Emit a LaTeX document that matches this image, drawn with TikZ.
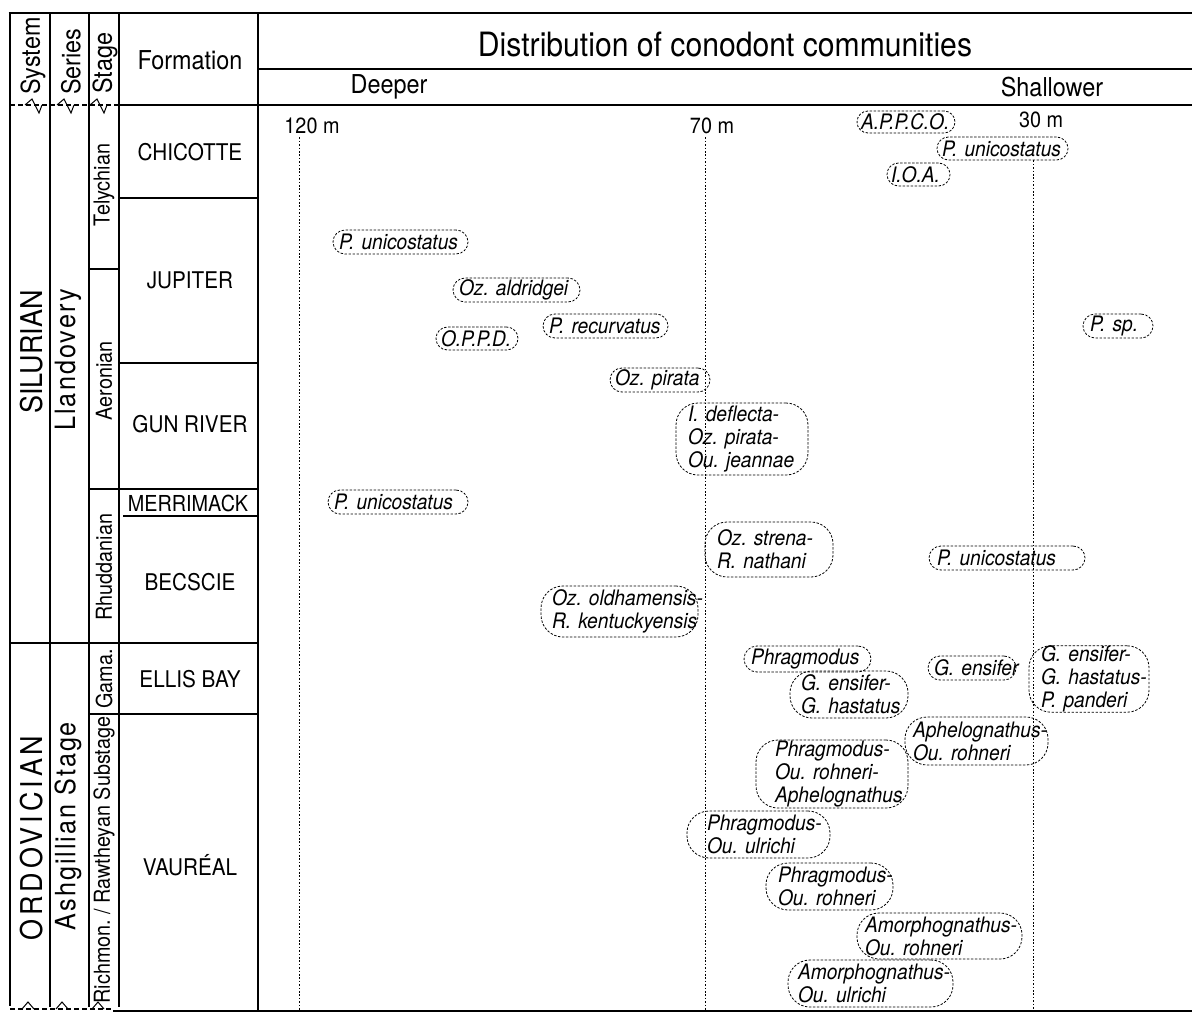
\documentclass[tikz,border=0pt]{standalone}
\usepackage{fontspec}
\setmainfont{TeX Gyre Heros}[FakeStretch=0.9]
\newfontfamily\commfam{TeX Gyre Heros}[FakeStretch=0.9, WordSpace=0.4]
\begin{document}
\frenchspacing
\begin{tikzpicture}[x=1pt,y=-1pt,
  rule/.style={line width=1.3pt, line cap=rect},
  border/.style={line width=2.8pt},
  comm/.style={draw, line width=0.8pt, dash pattern=on 2.4pt off 1.6pt,
    rounded corners=12pt, align=left, inner ysep=0pt,
    font=\commfam\fontsize{21.3}{23}\selectfont\itshape\frenchspacing},
  multi/.style={rounded corners=22pt},
  guide/.style={line width=0.9pt, dash pattern=on 1.6pt off 1.8pt},
  fm/.style={font=\fontsize{23}{26}\selectfont},
  stg/.style={rotate=90, font=\fontsize{22}{24}\selectfont},
  hdr/.style={font=\fontsize{26}{28}\selectfont},
  dep/.style={font=\fontsize{22}{24}\selectfont},
  colhdr/.style={rotate=90, anchor=west, inner sep=0pt, font=\fontsize{26}{28}\selectfont},
  brktop/.pic={\draw[line width=1pt, line join=miter] (-7,0) -- (0,-6) -- (7,8) -- (10,0);},
  brkbot/.pic={\draw[line width=1pt] (-6,0) -- (0,-7) -- (6,0);}
]
\useasboundingbox (0,0) rectangle (1192,1014);

% ---- frame and grid ----
\draw[border] (8.6,13) -- (1192,13);
\draw[border] (10,13) -- (10,1006);
\draw[border] (113,1011) -- (1192,1011);
\draw[rule] (50,13) -- (50,1006);
\draw[rule] (89,13) -- (89,1006);
\draw[rule] (119,13) -- (119,1006);
\draw[rule] (258,13) -- (258,1011);
\draw[rule] (258,69) -- (1192,69);
\draw[rule] (119,105) -- (1192,105);
\draw[line width=1.1pt, dash pattern=on 5pt off 3pt] (10,105) -- (119,105);
\draw[line width=1.1pt, dash pattern=on 5pt off 3pt] (10,1009) -- (113,1009);
\pic at (32,105) {brktop};
\pic at (64,105) {brktop};
\pic at (97,105) {brktop};
\pic at (28,1009) {brkbot};
\pic at (62,1009) {brkbot};
\pic at (98,1009) {brkbot};

\draw[rule] (89,269) -- (119,269);
\draw[rule] (119,198) -- (258,198);
\draw[rule] (119,363) -- (258,363);
\draw[rule] (89,489) -- (258,489);
\draw[rule] (124,516) -- (258,516);
\draw[rule] (10,643) -- (258,643);
\draw[rule] (89,714) -- (258,714);

% ---- headers ----
\node[font=\fontsize{33.5}{36}\selectfont] (title) at (725,44) {Distribution of conodont communities};
\node[hdr] (deeper) at (389,87) {Deeper};
\node[hdr] (shallower) at (1052,87) {Shallower};
\node[hdr] (formation) at (190,60) {Formation};
\node[colhdr] (system) at (33,95) {System};
\node[colhdr] (series) at (71,95) {Series};
\node[colhdr] (stage) at (105,94) {Stage};

% ---- system / series / stage ----
\node[rotate=90, font=\fontsize{30}{32}\selectfont] (sil) at (32,352) {SILURIAN};
\node[rotate=90, font=\fontsize{30}{32}\selectfont\addfontfeature{LetterSpace=13}] (ord) at (32,838) {ORDOVICIAN};
\node[rotate=90, font=\fontsize{28}{30}\selectfont\addfontfeature{LetterSpace=7.5}] (llan) at (68,360) {Llandovery};
\node[rotate=90, font=\fontsize{28}{30}\selectfont\addfontfeature{LetterSpace=7}] (ashg) at (68,826) {Ashgillian Stage};
\node[stg] (tely) at (104,185) {Telychian};
\node[stg] (aero) at (104,381) {Aeronian};
\node[stg] (rhud) at (104,567) {Rhuddanian};
\node[stg] (gama) at (104,679) {Gama.};
\node[stg] (rich) at (104,860) {Richmon. / Rawtheyan Substage};

% ---- formations ----
\node[fm] (chic) at (190,152) {CHICOTTE};
\node[fm] (jup) at (190,280) {JUPITER};
\node[fm] (gun) at (190,424) {GUN RIVER};
\node[font=\fontsize{22}{24}\selectfont] (merr) at (188,503) {MERRIMACK};
\node[fm] (becs) at (190,582) {BECSCIE};
\node[fm] (ellis) at (190,679) {ELLIS BAY};
\node[fm] (vaur) at (190,865) {VAURÉAL};

% ---- depth guides ----
\node[dep] (m120) at (312,126) {120 m};
\node[dep] (m70) at (712,126) {70 m};
\node[dep] (m30) at (1041,120) {30 m};
\coordinate (b120) at (299,1011);
\coordinate (b70) at (705,1011);
\coordinate (b30) at (1033,1011);

% ---- communities ----
\node[comm, text width=90pt, inner xsep=4pt, minimum height=22pt, rounded corners=11pt] (apco) at (906,122) {\mbox{A.P.P.C.O.}};
\node[comm, text width=121pt, inner xsep=5pt, minimum height=23pt, rounded corners=11.5pt] (pua) at (1002.5,148.5) {\mbox{P. unicostatus}};
\node[comm, text width=55pt, inner xsep=4pt, minimum height=23pt, rounded corners=11.5pt] (ioa) at (918.5,174.5) {\mbox{I.O.A.}};
\node[comm, text width=123pt, inner xsep=6pt, minimum height=24pt] (pub) at (400.5,242) {\mbox{P. unicostatus}};
\node[comm, text width=115pt, inner xsep=6pt, minimum height=24pt] (ozal) at (516.5,290) {\mbox{Oz. aldridgei}};
\node[comm, text width=113pt, inner xsep=6pt, minimum height=24pt] (prec) at (605.5,326) {\mbox{P. recurvatus}};
\node[comm, text width=72pt, inner xsep=5pt, minimum height=23pt, rounded corners=11.5pt] (oppd) at (477,338.5) {\mbox{O.P.P.D.}};
\node[comm, text width=56pt, inner xsep=7pt, minimum height=24pt] (psp) at (1118,326) {\mbox{P. sp.}};
\node[comm, text width=90pt, inner xsep=5pt, minimum height=24pt] (ozpi) at (660,380) {\mbox{Oz. pirata}};
\node[comm, multi, text width=108pt, inner xsep=12pt, minimum height=72pt] (idef) at (742,439) {\mbox{I. deflecta-}\\\mbox{Oz. pirata-}\\\mbox{Ou. jeannae}};
\node[comm, text width=128pt, inner xsep=6pt, minimum height=24pt] (puc) at (398,502) {\mbox{P. unicostatus}};
\node[comm, multi, text width=104pt, inner xsep=12pt, minimum height=55pt] (ozst) at (769,549.5) {\mbox{Oz. strena-}\\\mbox{R. nathani}};
\node[comm, text width=140pt, inner xsep=8pt, minimum height=24pt] (pud) at (1007,558) {\mbox{P. unicostatus}};
\node[comm, multi, text width=135pt, inner xsep=11pt, minimum height=51pt] (ozol) at (619.5,611.5) {\mbox{Oz. oldhamensis-}\\\mbox{R. kentuckyensis}};
\node[comm, rounded corners=13pt, text width=113pt, inner xsep=7pt, minimum height=26pt] (phra) at (807.5,659) {\mbox{Phragmodus}};
\node[comm, multi, text width=96pt, inner xsep=11pt, minimum height=47pt] (gegh) at (849,694.5) {\mbox{G. ensifer-}\\\mbox{G. hastatus}};
\node[comm, text width=76pt, inner xsep=6pt, minimum height=24pt] (gens) at (972,668) {\mbox{G. ensifer}};
\node[comm, multi, text width=96pt, inner xsep=12pt, minimum height=64pt] (geghpp) at (1089,679) {\mbox{G. ensifer-}\\\mbox{G. hastatus-}\\\mbox{P. panderi}};
\node[comm, multi, text width=127pt, inner xsep=8pt, minimum height=48pt] (apou) at (976.5,741) {\mbox{Aphelognathus-}\\\mbox{Ou. rohneri}};
\node[comm, multi, text width=114pt, inner xsep=19pt, minimum height=68pt] (phoa) at (832,774) {\mbox{Phragmodus-}\\\mbox{Ou. rohneri-}\\\mbox{Aphelognathus}};
\node[comm, multi, text width=103pt, inner xsep=20pt, minimum height=47pt] (phou) at (758.5,834.5) {\mbox{Phragmodus-}\\\mbox{Ou. ulrichi}};
\node[comm, multi, text width=103pt, inner xsep=12pt, minimum height=47pt] (phor) at (829.5,886.5) {\mbox{Phragmodus-}\\\mbox{Ou. rohneri}};
\node[comm, multi, text width=149pt, inner xsep=8pt, minimum height=46pt] (amor) at (939.5,936) {\mbox{Amorphognathus-}\\\mbox{Ou. rohneri}};
\node[comm, multi, text width=145pt, inner xsep=10pt, minimum height=47pt] (amou) at (870.5,983.5) {\mbox{Amorphognathus-}\\\mbox{Ou. ulrichi}};

% guide lines
\draw[guide] (m120.south -| b120) -- (b120);
\draw[guide] (m70.south -| b70) -- (b70);
\draw[guide] (pua.south -| b30) -- (b30);
\end{tikzpicture}
\end{document}
